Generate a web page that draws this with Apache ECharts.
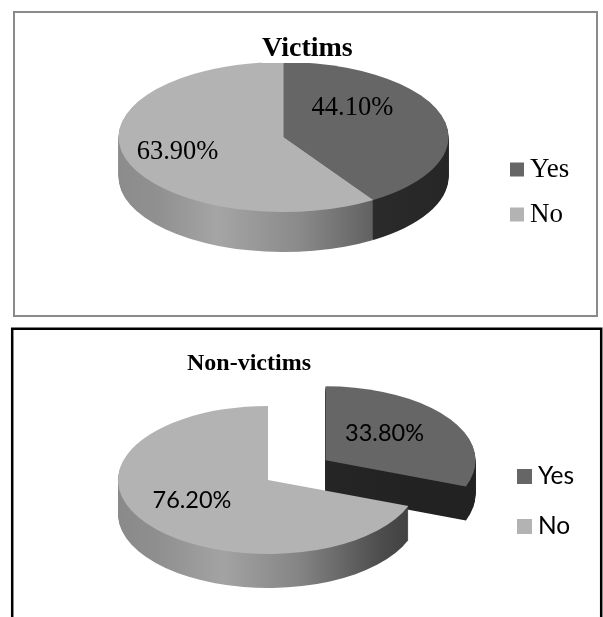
<!DOCTYPE html>
<html>
<head>
<meta charset="utf-8">
<script src="https://cdn.jsdelivr.net/npm/echarts@6/dist/echarts.min.js"></script>
<style>
html,body{margin:0;padding:0;background:#fff;}
#chart{width:603px;height:617px;}
</style>
</head>
<body>
<div id="chart"></div>
<script>
// ---- data ----
const categories = ['Yes', 'No'];
const victimsTitle = 'Victims';
const victimsValues = [44.1, 63.9];
const nonVictimsTitle = 'Non-victims';
const nonVictimsValues = [33.8, 76.2];

// ---- layout / style (no data) ----
const sliceColors = ['#666666', '#b3b3b3'];
const panels = [
  {
    title: victimsTitle, values: victimsValues,
    cx: 283.5, cy: 137, rx: 165, ry: 75, depth: 40,
    explode: [0, 0],
    labelK: 0.6, labelShift: [[-26, -16], [-11, 2]],
    labelFont: 'Liberation Serif', labelSize: 26.5,
    sideFill: [
      [[0, '#3a3a3a'], [1, '#262626']],
      [[0, '#8c8c8c'], [0.12, '#909090'], [0.3, '#a5a5a5'], [0.55, '#8a8a8a'], [0.82, '#585858'], [1, '#3a3a3a']]
    ]
  },
  {
    title: nonVictimsTitle, values: nonVictimsValues,
    cx: 268, cy: 480, rx: 150, ry: 74, depth: 34,
    explode: [70, 0],
    labelK: 0.6, labelShift: [[-15, -2], [-2, -5]],
    labelFont: 'Lato', labelSize: 23.5,
    sideFill: [
      [[0, '#2c2c2c'], [1, '#222222']],
      [[0, '#8a8a8a'], [0.12, '#8e8e8e'], [0.35, '#a3a3a3'], [0.6, '#858585'], [0.88, '#4c4c4c'], [1, '#3e3e3e']]
    ]
  }
];

function makeSlice(panel, idx) {
  return {
    type: 'custom',
    name: categories[idx],
    coordinateSystem: 'none',
    z: 2,
    itemStyle: { color: sliceColors[idx] },
    data: [[panel.values[idx]]],
    silent: true,
    renderItem: function (params, api) {
      const v = api.value(0);
      const total = panel.values.reduce((a, b) => a + b, 0);
      let before = 0;
      for (let i = 0; i < idx; i++) before += panel.values[i];
      const a0 = before / total * 2 * Math.PI;
      const a1 = (before + v) / total * 2 * Math.PI;
      const mid = (a0 + a1) / 2;
      const ex = panel.explode[idx];
      const cx = panel.cx + Math.sin(mid) * ex;
      const cy = panel.cy - Math.cos(mid) * ex * panel.ry / panel.rx;
      const sY = panel.ry / panel.rx;
      const shape = { cx: cx, cy: cy, r: panel.rx, r0: 0,
        startAngle: a0 - Math.PI / 2, endAngle: a1 - Math.PI / 2, clockwise: true };
      const grad = {
        type: 'linear', x: panel.cx - panel.rx, y: 0, x2: panel.cx + panel.rx, y2: 0, global: true,
        colorStops: panel.sideFill[idx].map(s => ({ offset: s[0], color: s[1] }))
      };
      const children = [];
      for (let d = panel.depth; d >= 1; d--) {
        children.push({
          type: 'sector', z2: panel.depth - d + 1,
          shape: shape, originX: cx, originY: cy, scaleY: sY, y: d,
          style: { fill: grad }
        });
      }
      children.push({
        type: 'sector', z2: 1000,
        shape: shape, originX: cx, originY: cy, scaleY: sY,
        style: { fill: sliceColors[idx] }
      });
      const lx = cx + Math.sin(mid) * panel.rx * panel.labelK + panel.labelShift[idx][0];
      const ly = cy - Math.cos(mid) * panel.ry * panel.labelK + panel.labelShift[idx][1];
      children.push({
        type: 'text', z2: 2000, x: lx, y: ly,
        style: {
          text: v.toFixed(2) + '%', fill: '#000',
          fontFamily: panel.labelFont, fontSize: panel.labelSize,
          align: 'center', verticalAlign: 'middle'
        }
      });
      return { type: 'group', children: children };
    }
  };
}

const series = [];
panels.forEach(p => { categories.forEach((c, i) => series.push(makeSlice(p, i))); });

const legendData = categories.map((c, i) => ({ name: c, itemStyle: { color: sliceColors[i] } }));

const option = {
  animation: false,
  backgroundColor: '#ffffff',
  title: [
    { text: panels[0].title, left: 262, top: 35, padding: 0, backgroundColor: '#ffffff',
      textStyle: { fontFamily: 'Liberation Serif', fontWeight: 'bold', fontSize: 28, lineHeight: 28, color: '#000' } },
    { text: panels[1].title, left: 187, top: 352, padding: 0,
      textStyle: { fontFamily: 'Liberation Serif', fontWeight: 'bold', fontSize: 24, lineHeight: 24, color: '#000' } }
  ],
  legend: [
    { orient: 'vertical', left: 510, top: 156, padding: 0, itemGap: 18, itemWidth: 14, itemHeight: 14,
      icon: 'rect', selectedMode: false, data: legendData,
      textStyle: { fontFamily: 'Liberation Serif', fontSize: 27, lineHeight: 27, color: '#000', padding: [0, 0, 0, 1] } },
    { orient: 'vertical', left: 517, top: 464, padding: 0, itemGap: 25, itemWidth: 15, itemHeight: 15,
      icon: 'rect', selectedMode: false, data: legendData,
      textStyle: { fontFamily: 'Lato', fontSize: 24.5, lineHeight: 24, color: '#000', padding: [0, 0, 0, 1] } }
  ],
  graphic: [
    { type: 'rect', shape: { x: 14, y: 12, width: 583, height: 304 },
      style: { fill: null, stroke: '#8a8a8a', lineWidth: 2 }, z: 10, silent: true },
    { type: 'rect', shape: { x: 12.2, y: 328.7, width: 589, height: 400 },
      style: { fill: null, stroke: '#000000', lineWidth: 2.5 }, z: 10, silent: true }
  ],
  series: series
};

const chart = echarts.init(document.getElementById('chart'), null, { renderer: 'canvas' });
chart.setOption(option);
</script>
</body>
</html>
